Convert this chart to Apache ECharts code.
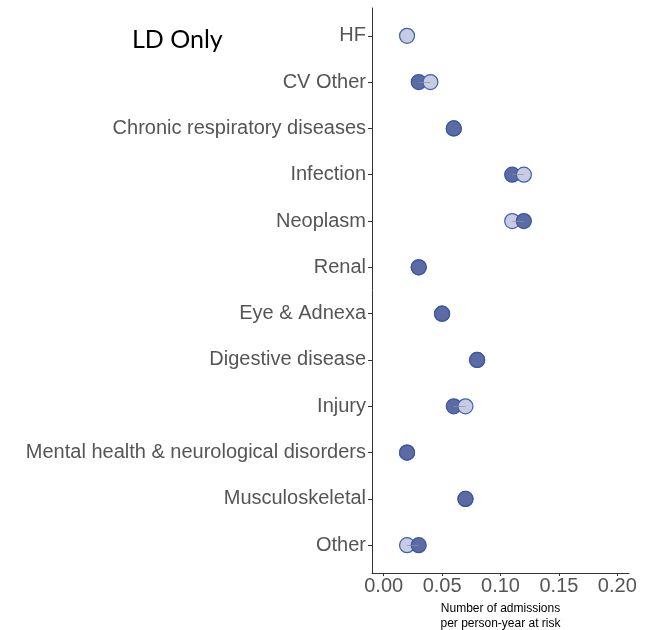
<!DOCTYPE html>
<html>
<head>
<meta charset="utf-8">
<script src="https://cdn.jsdelivr.net/npm/echarts@6/dist/echarts.min.js"></script>
<style>
  html, body { margin: 0; padding: 0; background: #fff; }
  #chart { width: 658px; height: 630px; }
</style>
</head>
<body>
<div id="chart"></div>
<script>
// Admission categories, top to bottom
const categories = [
  'HF', 'CV Other', 'Chronic respiratory diseases', 'Infection', 'Neoplasm',
  'Renal', 'Eye & Adnexa', 'Digestive disease', 'Injury',
  'Mental health & neurological disorders', 'Musculoskeletal', 'Other'
];
// Admissions per person-year at risk (dark markers)
const darkValues  = [null, 0.03, 0.06, 0.11, 0.12, 0.03, 0.05, 0.08, 0.06, 0.02, 0.07, 0.03];
// Admissions per person-year at risk (light markers)
const lightValues = [0.02, 0.04, 0.06, 0.12, 0.11, 0.03, 0.05, 0.08, 0.07, 0.02, 0.07, 0.02];
const xTicks = [0, 0.05, 0.10, 0.15, 0.20];
const chartTitle = 'LD Only';
const xTitle = 'Number of admissions\nper person-year at risk';

const yIdx = categories.map((_, i) => i);

// Light markers sit above the dark one when they are further right (or alone)
const lightFront = [], lightBack = [], dark = [], segments = [];
categories.forEach((c, i) => {
  const d = darkValues[i], l = lightValues[i];
  if (d != null) dark.push([d, i]);
  if (l != null) {
    if (d == null || l > d) lightFront.push([l, i]);
    else lightBack.push([l, i]);
  }
  if (d != null && l != null && d !== l) segments.push({ coords: [[d, i], [l, i]] });
});

const darkStyle  = { color: '#5c6ba4', borderColor: '#3a55a0', borderWidth: 1.2, opacity: 1 };
const lightStyle = { color: '#c8cce2', borderColor: '#3f60ad', borderWidth: 1.2, opacity: 1 };
const markerSize = 15;

const chart = echarts.init(document.getElementById('chart'), null, { renderer: 'canvas' });
chart.setOption({
  animation: false,
  backgroundColor: '#ffffff',
  title: {
    text: chartTitle,
    left: 127, top: 22,
    textStyle: { fontFamily: 'Lato', fontSize: 25, fontWeight: 'normal', color: '#000' }
  },
  grid: { left: 372, top: 8, width: 257, height: 565, containLabel: false, outerBoundsMode: 'none' },
  xAxis: {
    type: 'value',
    min: -0.01, max: 0.21,
    axisLine: { show: true, onZero: false, lineStyle: { color: '#333', width: 1 } },
    axisTick: { show: true, length: 3, lineStyle: { color: '#333' }, customValues: xTicks },
    axisLabel: {
      customValues: xTicks, margin: 3,
      formatter: v => v.toFixed(2),
      fontFamily: 'Liberation Sans', fontSize: 20, color: '#555'
    },
    splitLine: { show: false },
    name: xTitle,
    nameLocation: 'middle',
    nameGap: 26,
    nameTextStyle: { fontFamily: 'Liberation Sans', fontSize: 12, lineHeight: 15, color: '#000', verticalAlign: 'top' }
  },
  yAxis: {
    type: 'value',
    inverse: true,
    min: -0.6, max: 11.6,
    axisLine: { show: true, onZero: false, lineStyle: { color: '#333', width: 1 } },
    axisTick: { show: true, length: 4, lineStyle: { color: '#333' }, customValues: yIdx },
    axisLabel: {
      customValues: yIdx, margin: 6,
      formatter: v => categories[Math.round(v)] || '',
      fontFamily: 'Liberation Sans', fontSize: 20, color: '#555'
    },
    splitLine: { show: false }
  },
  series: [
    { type: 'scatter', name: 'light-back', data: lightBack, symbolSize: markerSize, itemStyle: lightStyle, z: 2 },
    { type: 'scatter', name: 'dark', data: dark, symbolSize: markerSize, itemStyle: darkStyle, z: 3 },
    { type: 'scatter', name: 'light-front', data: lightFront, symbolSize: markerSize, itemStyle: lightStyle, z: 4 },
    {
      type: 'lines', coordinateSystem: 'cartesian2d', data: segments, z: 5,
      lineStyle: { color: '#8a8fa8', width: 1, opacity: 0.7 }, silent: true
    }
  ]
});
</script>
</body>
</html>
